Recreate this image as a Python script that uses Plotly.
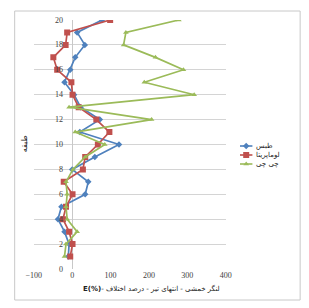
import plotly.graph_objects as go

levels = list(range(1, 21))
tabas = [-10, -8, -20, -37, -28, 34, 42, 0, 59, 122, 20, 72, 22, 5, -20, -5, 8, 33, 13, 78]
loma = [-5, 1, -8, -24, -16, 1, -22, 28, 34, 67, 97, 63, 17, 1, -2, -39, -49, -17, -13, 99]
chichi = [-20, -16, 13, -13, -16, -13, -16, 2, 34, 85, 8, 207, -8, 318, 188, 290, 217, 134, 140, 278]

series_names = ["طبس", "لوماپریتا", "چی چی"]
colors = ["#4F81BD", "#C0504D", "#9BBB59"]
symbols = ["diamond", "square", "triangle-up"]
sizes = [5, 6, 5]

x_ticks = [-100, 0, 100, 200, 300, 400]
y_ticks = list(range(0, 21, 2))

W, H = 309, 308
PL, PR, PT, PB = 27, 228, 20, 269  # plot area in pixels
FRAME = dict(x0=7, x1=306, y0=11, y1=300)  # chart-area frame in pixels

fig = go.Figure()

# chart-area frame (pixel overlay axis)
fig.add_trace(go.Scatter(x=[FRAME["x0"], FRAME["x1"], FRAME["x1"], FRAME["x0"], FRAME["x0"]],
                         y=[FRAME["y0"], FRAME["y0"], FRAME["y1"], FRAME["y1"], FRAME["y0"]],
                         mode="lines", line=dict(color="#c8c8c8", width=1),
                         showlegend=False, xaxis="x2", yaxis="y2", hoverinfo="skip"))

for name, vals, c, s, sz in zip(series_names, [tabas, loma, chichi], colors, symbols, sizes):
    fig.add_trace(go.Scatter(x=vals, y=levels, mode="lines+markers", name=name,
                             line=dict(color=c, width=1.7),
                             marker=dict(symbol=s, size=sz, color=c),
                             showlegend=False, xaxis="x", yaxis="y"))

# manual legend in a pixel-space overlay axis
leg_y = [146, 155, 164]
for name, c, s, sz, yp in zip(series_names, colors, symbols, sizes, leg_y):
    fig.add_trace(go.Scatter(x=[243, 256], y=[yp, yp], mode="lines", line=dict(color=c, width=1.6),
                             showlegend=False, xaxis="x2", yaxis="y2", hoverinfo="skip"))
    fig.add_trace(go.Scatter(x=[249.5], y=[yp], mode="markers", marker=dict(symbol=s, size=sz, color=c),
                             showlegend=False, xaxis="x2", yaxis="y2", hoverinfo="skip"))
    fig.add_annotation(x=258, y=yp, xref="x2", yref="y2", text=name, showarrow=False,
                       xanchor="left", yanchor="middle",
                       font=dict(family="DejaVu Sans", size=7, color="#222222"))

fig.update_layout(
    width=W, height=H,
    margin=dict(l=0, r=0, t=0, b=0),
    paper_bgcolor="white", plot_bgcolor="rgba(0,0,0,0)",
    xaxis=dict(domain=[PL / W, PR / W], range=[-100, 400], tickvals=x_ticks, showgrid=False,
               zeroline=True, zerolinecolor="#c8c8c8", zerolinewidth=1, anchor="y",
               showline=False, ticks="", tickfont=dict(family="Liberation Serif", size=8, color="#404040")),
    yaxis=dict(domain=[(H - PB) / H, (H - PT) / H], range=[0, 20], tickvals=y_ticks, showgrid=True,
               gridcolor="#d4d4d4", gridwidth=1, anchor="x",
               zeroline=False, showticklabels=False, showline=False),
    xaxis2=dict(domain=[0, 1], range=[0, W], visible=False, anchor="y2"),
    yaxis2=dict(domain=[0, 1], range=[H, 0], visible=False, anchor="x2"),
)

for t in y_ticks:
    fig.add_annotation(x=0, y=t, xref="x", yref="y", text=str(t), showarrow=False,
                       xanchor="right", yanchor="middle", xshift=-7,
                       font=dict(family="Liberation Serif", size=8, color="#404040"))

fig.add_annotation(x=17, y=144, xref="x2", yref="y2",
                   text="طبقه", textangle=-90, showarrow=False,
                   font=dict(family="DejaVu Sans", size=8, color="#222222"))
fig.add_annotation(x=150, y=288, xref="x2", yref="y2",
                   text="<b>E(%)</b>- لنگر خمشی - انتهای تیر - درصد اختلاف", showarrow=False,
                   xanchor="center", yanchor="middle",
                   font=dict(family="DejaVu Sans", size=7, color="#222222"))

fig.write_html("out.html", config={"displayModeBar": False},
               post_script="document.body.style.margin='0px';document.body.style.overflow='hidden';")
